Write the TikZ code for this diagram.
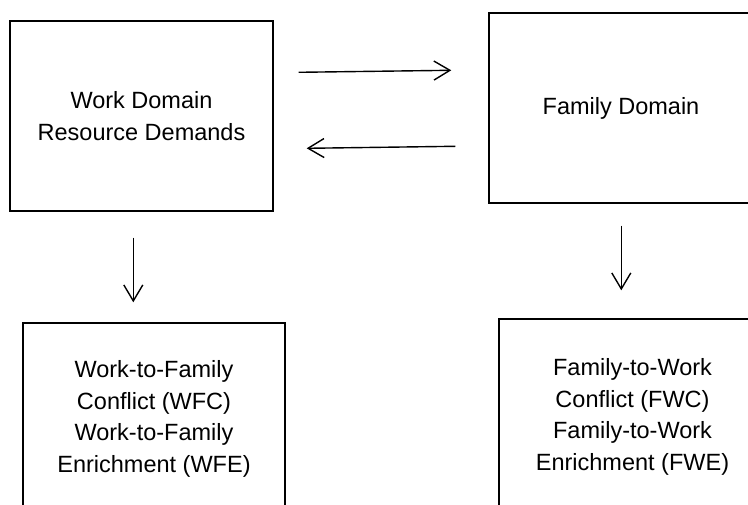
\documentclass[tikz,border=0pt]{standalone}
\usepackage{fontspec}
\setmainfont{Liberation Sans}
\usetikzlibrary{arrows.meta}
\begin{document}
\begin{tikzpicture}[x=1pt,y=-1pt,
  box/.style={draw=black, line width=1.4pt, align=center, inner sep=0pt,
    font=\fontsize{23.5}{31.7}\selectfont},
  arr/.style={line width=1.4pt, -{Straight Barb[length=16pt,width=19pt,line width=1.4pt]}}]
\useasboundingbox (0,0) rectangle (748,505);
\clip (0,0) rectangle (748,505);
\fill[white] (0,0) rectangle (748,505);
\node[box, minimum width=263pt, minimum height=190pt] (wd) at (141.5,116) {Work Domain\\Resource Demands};
\node[box, minimum width=264pt, minimum height=190pt] (fd) at (621,108) {Family Domain};
\node[box, minimum width=262pt, minimum height=192pt] (wfc) at (154,419) {Work-to-Family\\Conflict (WFC)\\Work-to-Family\\Enrichment (WFE)};
\node[box, minimum width=267pt, minimum height=196pt] (fwc) at (632.5,417) {Family-to-Work\\Conflict (FWC)\\Family-to-Work\\Enrichment (FWE)};
\path (wd.north east) ++(25,52) coordinate (r1s);
\path (fd.north west) ++(-37,58) coordinate (r1e);
\path (fd.north west) ++(-33,134) coordinate (r2s);
\path (wd.north east) ++(33,128) coordinate (r2e);
\path (wd.south west) ++(124,26) coordinate (d1s);
\path (wfc.north west) ++(111,-20) coordinate (d1e);
\path (fd.south west) ++(133,22) coordinate (d2s);
\path (fwc.north west) ++(123,-28) coordinate (d2e);
\draw[arr] (r1s) -- (r1e);
\draw[arr] (r2s) -- (r2e);
\draw[arr] (d1s) -- (d1e);
\draw[arr] (d2s) -- (d2e);
\end{tikzpicture}
\end{document}
